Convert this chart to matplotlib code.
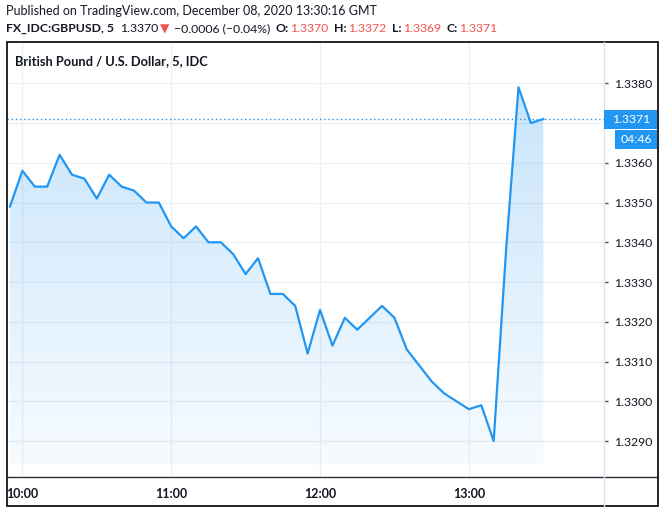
import matplotlib
matplotlib.use("Agg")
import matplotlib.pyplot as plt
import matplotlib.dates as mdates
import numpy as np
import pandas as pd
from matplotlib.patches import Rectangle
from matplotlib.lines import Line2D
from matplotlib.transforms import IdentityTransform

plt.rcParams['font.family'] = ['Lato', 'DejaVu Sans']

# GBPUSD 5-minute closes, 09:55 .. 13:30
start = "2020-12-08 09:55"
prices = [1.3349, 1.3358, 1.3354, 1.3354, 1.3362, 1.3357, 1.3356, 1.3351, 1.3357,
          1.3354, 1.3353, 1.3350, 1.3350, 1.3344, 1.3341, 1.3344, 1.3340, 1.3340,
          1.3337, 1.3332, 1.3336, 1.3327, 1.3327, 1.3324, 1.3312, 1.3323, 1.3314,
          1.3321, 1.3318, 1.3321, 1.3324, 1.3321, 1.3313, 1.3309, 1.3305, 1.3302,
          1.3300, 1.3298, 1.3299, 1.3290, 1.3338, 1.3379, 1.3370, 1.3371]
price_ticks = [1.3290, 1.3300, 1.3310, 1.3320, 1.3330, 1.3340, 1.3350, 1.3360, 1.3370, 1.3380]
last_price = 1.3371
countdown = "04:46"

header = "Published on TradingView.com, December 08, 2020 13:30:16 GMT"
title = "British Pound / U.S. Dollar, 5, IDC"
# (text, colour, weight, gap before in px)
quote_line = [
    ("FX_IDC:GBPUSD, 5", '#131722', 'bold', 0),
    ("1.3370", '#131722', 'normal', 6),
    ("\u25bc", '#ef5350', 'normal', 2),
    ("\u22120.0006 (\u22120.04%)", '#131722', 'normal', 4),
    ("O:", '#131722', 'bold', 6),
    ("1.3370", '#ef5350', 'normal', 1),
    ("H:", '#131722', 'bold', 6),
    ("1.3372", '#ef5350', 'normal', 1),
    ("L:", '#131722', 'bold', 6),
    ("1.3369", '#ef5350', 'normal', 1),
    ("C:", '#131722', 'bold', 6),
    ("1.3371", '#ef5350', 'normal', 1),
]

BLUE = '#2196f3'
W, H = 665, 513

fig = plt.figure(figsize=(W / 100, H / 100), dpi=100)
fig.patch.set_facecolor('white')

# pane geometry in pixels (from top-left)
left, right, top, bottom = 7, 604.3, 42, 477.3
ax = fig.add_axes([left / W, 1 - bottom / H, (right - left) / W, (bottom - top) / H])

times = pd.date_range(start, periods=len(prices), freq="5min")
x = mdates.date2num(times)

ax.plot(x, prices, color=BLUE, lw=1.6, zorder=4)

# gradient area under the line
base = 1.3284
poly = ax.fill_between(x, prices, base, facecolor='none', edgecolor='none')
grad = np.zeros((256, 1, 4))
grad[..., :3] = matplotlib.colors.to_rgb(BLUE)
grad[..., 3] = np.linspace(0.04, 0.25, 256)[:, None]
im = ax.imshow(grad, extent=[x[0], x[-1], base, max(prices)], origin='lower',
               aspect='auto', interpolation='bilinear', zorder=2)
im.set_clip_path(poly.get_paths()[0], transform=ax.transData)

t0 = pd.Timestamp("2020-12-08 10:00")
ax.set_xlim(mdates.date2num(t0 - pd.Timedelta(minutes=6.2)),
            mdates.date2num(t0 + pd.Timedelta(minutes=234.6)))
ax.set_ylim(1.328087, 1.339039)

ax.axhline(last_price, color=BLUE, lw=1, linestyle=(0, (1, 2)), zorder=3)

ax.xaxis.set_major_locator(mdates.HourLocator())
ax.xaxis.set_major_formatter(mdates.DateFormatter('%H:%M'))
ax.set_yticks(price_ticks)
# the tick label under the last-price tag is hidden, as on the price scale
ax.set_yticklabels(["" if abs(p - last_price) < 0.0005 else f"{p:.4f}" for p in price_ticks])
ax.yaxis.tick_right()
ax.grid(True, color='#eef0f4', lw=1, zorder=0)
for s in ax.spines.values():
    s.set_visible(False)
ax.tick_params(axis='y', direction='out', length=3, width=1, color='#50535e',
               pad=4, labelsize=8.8, labelcolor='#131722')
ax.tick_params(axis='x', length=0, pad=8, labelsize=9, labelcolor='#131722')
for lbl in ax.get_xticklabels():
    lbl.set_fontweight('bold')

# frame and separators
frame_l, frame_r, frame_t, frame_b = 6.7, 658, 41.7, 506
fig.add_artist(Rectangle((frame_l, H - frame_b), frame_r - frame_l, frame_b - frame_t,
                         transform=IdentityTransform(), fill=False, ec='#000000', lw=1.2))
fig.add_artist(Line2D([frame_l, frame_r], [H - bottom, H - bottom], transform=IdentityTransform(),
                      color='#2a2e39', lw=1))
fig.add_artist(Line2D([right, right], [H - frame_t, H - frame_b], transform=IdentityTransform(),
                      color='#e0e3eb', lw=1))

# last price labels on the price scale
renderer = fig.canvas.get_renderer()
y_last = ax.transData.transform((x[0], last_price))[1]
fig.add_artist(Rectangle((right, y_last - 9.5), frame_r - right - 1, 19, transform=IdentityTransform(),
                         fc=BLUE, ec='none', zorder=5))
fig.text(631, y_last, f"{last_price:.4f}", transform=IdentityTransform(), color='white',
         fontsize=8.8, ha='center', va='center', zorder=6)
fig.add_artist(Rectangle((615, y_last - 30), frame_r - 615 - 1, 19, transform=IdentityTransform(),
                         fc=BLUE, ec='none', zorder=5))
fig.text(636, y_last - 20.5, countdown, transform=IdentityTransform(), color='white',
         fontsize=8.8, ha='center', va='center', zorder=6)

# header and title
fig.text(6, H - 11, header, transform=IdentityTransform(), color='#131722', fontsize=9.0, va='center')
fig.text(15, H - 61, title, transform=IdentityTransform(), color='#131722', fontsize=9.3,
         fontweight='bold', va='center')
xpos = 6
for text, color, weight, gap in quote_line:
    xpos += gap
    t = fig.text(xpos, H - 29, text, transform=IdentityTransform(), color=color,
                 fontsize=8.8, fontweight=weight, va='center')
    xpos = t.get_window_extent(renderer).x1

fig.savefig("out.png", dpi=100)
